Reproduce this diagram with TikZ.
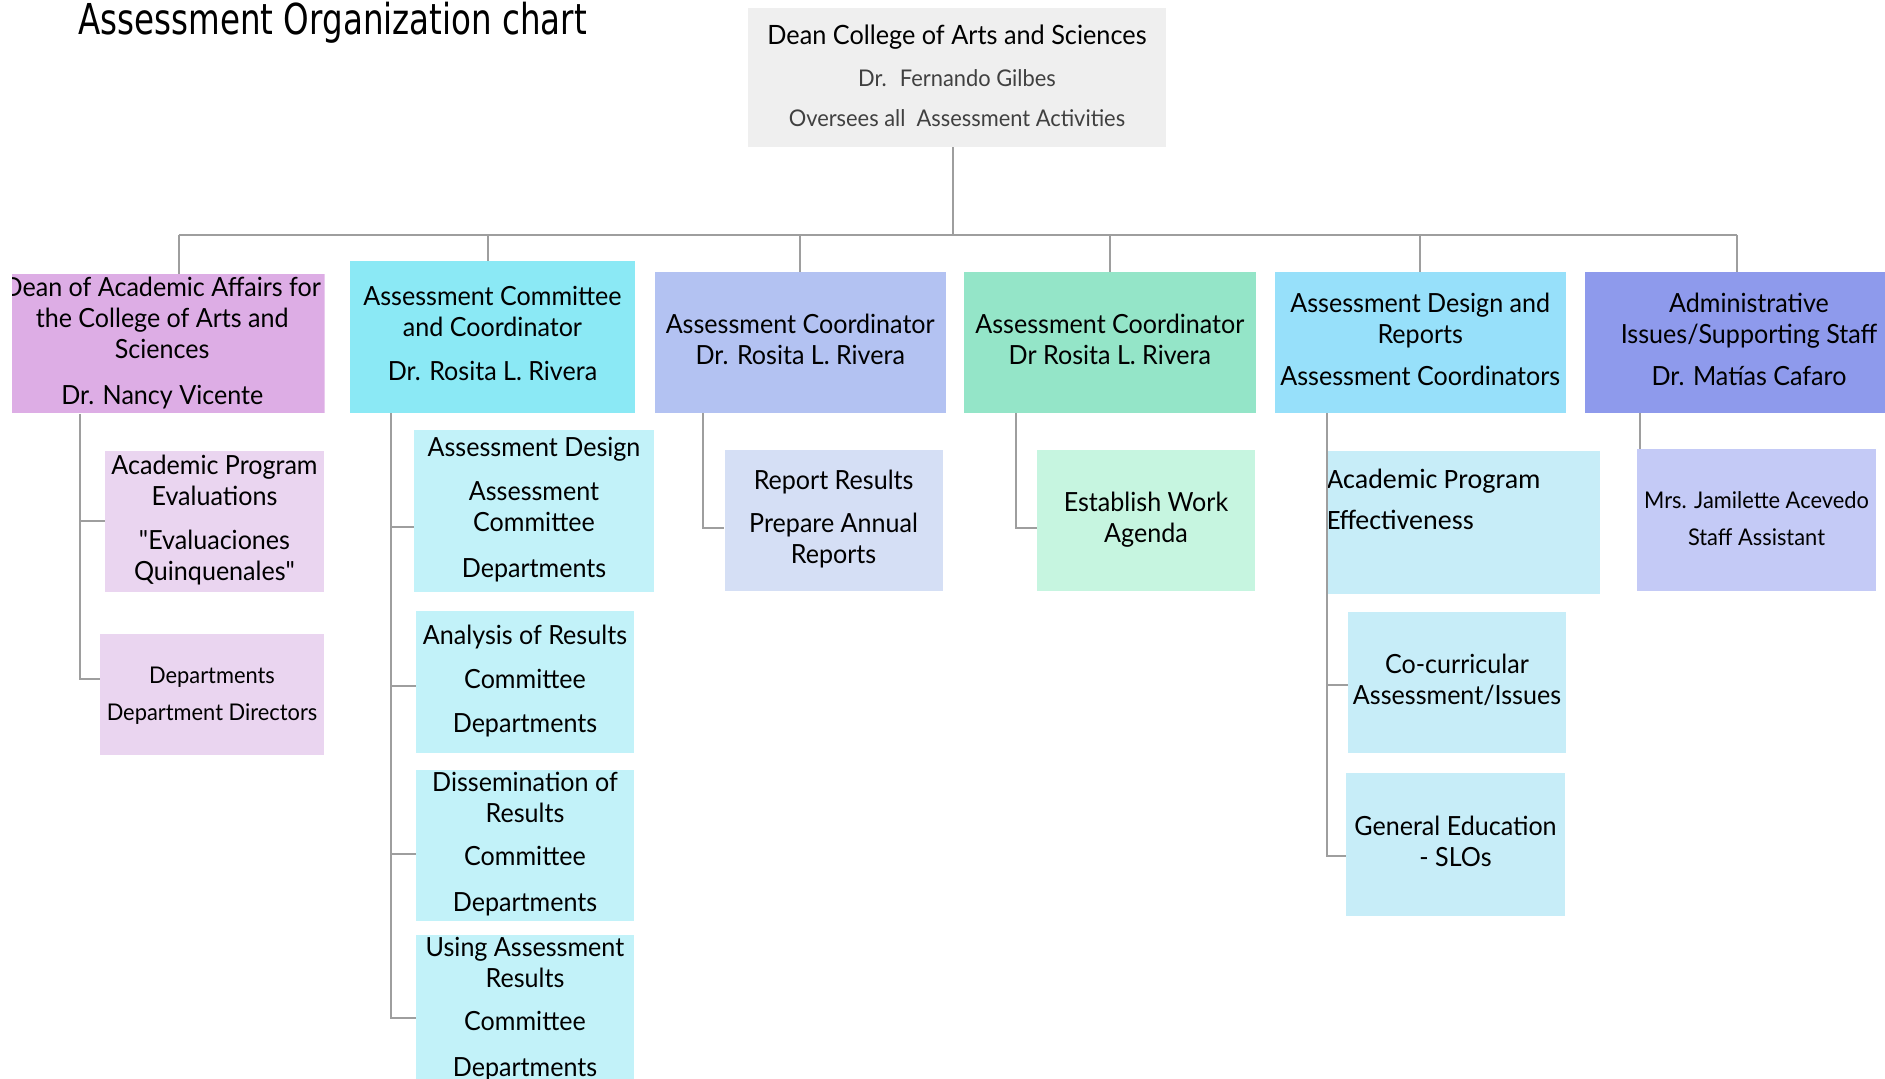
\documentclass[tikz,border=0pt]{standalone}
\usepackage{fontspec}
\usepackage{graphicx}
\setmainfont{Lato}[Ligatures=TeXOff, FakeStretch=0.95]
\newfontfamily\titlefont{DejaVu Sans}
\newfontfamily\calfont{Carlito}
\definecolor{linegray}{HTML}{9E9E9E}
\definecolor{ctop}{HTML}{EFEFEF}
\definecolor{cb1}{HTML}{DDADE5}
\definecolor{cb2}{HTML}{8BE9F5}
\definecolor{cb3}{HTML}{B3C2F2}
\definecolor{cb4}{HTML}{94E5C8}
\definecolor{cb5}{HTML}{97E0FA}
\definecolor{cb6}{HTML}{8E9AEC}
\definecolor{cc1}{HTML}{EAD5F0}
\definecolor{cc2}{HTML}{C2F2F9}
\definecolor{cc3}{HTML}{D5DFF5}
\definecolor{cc4}{HTML}{C6F5E0}
\definecolor{cc5}{HTML}{C7EDF8}
\definecolor{cc6}{HTML}{C4CAF6}
\definecolor{subgray}{HTML}{404040}
\newcommand\tb[1]{\begin{tabular}{@{}c@{}}#1\end{tabular}}
\newcommand\stb[1]{\raisebox{1.5pt}{\begin{tabular}{@{}c@{}}#1\end{tabular}}}
\tikzset{
  conn/.style={draw=linegray, line width=1pt},
  box/.style={rectangle, inner sep=0pt, text=black,
    font=\fontsize{13.2}{15.5}\selectfont},
  smallbox/.style={box, font=\fontsize{11.5}{18.5}\selectfont},
}
\begin{document}
\begin{tikzpicture}[x=0.5pt, y=-0.5pt]
\useasboundingbox (0,0) rectangle (1885,1079);

% title
\node[anchor=base west, inner sep=0pt, font=\titlefont\fontsize{21.3}{24}\selectfont] (title) at (78,35)
  {\scalebox{0.764}[1]{Assessment Organization chart}};

% top box
\node[box, fill=ctop, minimum width=209pt, minimum height=69.5pt, font=\fontsize{11.5}{20}\selectfont] (top) at (957,77.5)
  {\raisebox{4pt}{\tb{{\fontsize{13.3}{20}\selectfont Dean College of Arts and Sciences}\\[1pt]
   \color{subgray}Dr.~ Fernando Gilbes\\
   \color{subgray}Oversees all~ Assessment Activities}}};

% level 1
\begin{scope}
\clip (12,275) rectangle (324.5,413);
\node[box, fill=cb1, minimum width=156.25pt, minimum height=69pt] (b1) at (168.25,344)
  {\tb{Dean of Academic Affairs for\\the College of Arts and\\Sciences\\[7.5pt]Dr. Nancy Vicente}\hspace*{6pt}};
\end{scope}
\node[box, fill=cb2, minimum width=142.5pt, minimum height=76pt] (b2) at (492.5,337)
  {\tb{Assessment Committee\\and Coordinator\\[6.5pt]Dr. Rosita L. Rivera}};
\node[box, fill=cb3, minimum width=145.75pt, minimum height=70.5pt] (b3) at (800.25,342.5)
  {\tb{Assessment Coordinator\\Dr. Rosita L. Rivera}};
\node[box, fill=cb4, minimum width=145.85pt, minimum height=70.5pt] (b4) at (1109.85,342.5)
  {\tb{Assessment Coordinator\\Dr Rosita L. Rivera}};
\node[box, fill=cb5, minimum width=145.25pt, minimum height=70.5pt] (b5) at (1420.25,342.5)
  {\tb{Assessment Design and\\Reports\\[5.5pt]Assessment Coordinators}};
\node[box, fill=cb6, minimum width=164pt, minimum height=70.5pt] (b6) at (1749,342.5)
  {\tb{Administrative\\Issues/Supporting Staff\\[5.5pt]Dr. Matías Cafaro}};

% level 2
\node[box, fill=cc1, minimum width=109.5pt, minimum height=70.5pt] (c11) at (214.5,521.5)
  {\tb{Academic Program\\Evaluations\\[6.5pt]"Evaluaciones\\Quinquenales"}};
\node[smallbox, fill=cc1, minimum width=112pt, minimum height=60.5pt] (c12) at (212,694.5)
  {\stb{Departments\\Department Directors}};

\node[box, fill=cc2, minimum width=120pt, minimum height=81pt] (c21) at (534,511)
  {\tb{Assessment Design\\[6.5pt]Assessment\\Committee\\[7.5pt]Departments}};
\node[box, fill=cc2, minimum width=109pt, minimum height=71pt] (c22) at (525,682)
  {\tb{Analysis of Results\\[6.5pt]Committee\\[6.5pt]Departments}};
\node[box, fill=cc2, minimum width=109pt, minimum height=70.5pt] (c23) at (525,845.5)
  {\tb{Dissemination of\\Results\\[6pt]Committee\\[7.5pt]Departments}};
\node[box, fill=cc2, minimum width=109pt, minimum height=72pt] (c24) at (525,1010)
  {\tb{Using Assessment\\Results\\[6pt]Committee\\[7.5pt]Departments}};

\node[box, fill=cc3, minimum width=109pt, minimum height=70.35pt] (c31) at (833.6,520.35)
  {\tb{Report Results\\[6pt]Prepare Annual\\Reports}};
\node[box, fill=cc4, minimum width=109pt, minimum height=70.5pt] (c41) at (1146,520.5)
  {\tb{Establish Work\\Agenda}};

\node[box, fill=cc5, minimum width=136.25pt, minimum height=71.65pt] (c51) at (1463.25,522.35)
  {\begin{minipage}[c][71.65pt][t]{136.25pt}\raggedright\vspace*{9pt}%
   \calfont\fontsize{14}{20.5}\selectfont Academic Program\\Effectiveness\end{minipage}};
\node[box, fill=cc5, minimum width=109pt, minimum height=70.5pt] (c52) at (1457,682.5)
  {\tb{Co-curricular\\Assessment/Issues}};
\node[box, fill=cc5, minimum width=109.5pt, minimum height=71.5pt] (c53) at (1455.5,844.5)
  {\tb{General Education\\- SLOs}};

\node[smallbox, fill=cc6, minimum width=119.5pt, minimum height=70.85pt] (c61) at (1756.5,519.85)
  {\stb{Mrs. Jamilette Acevedo\\Staff Assistant}};

% connectors
\coordinate (bus) at (0,235);
\draw[conn] ([xshift=-2pt]top.south) -- ([xshift=-2pt]top.south |- bus);
\draw[conn] ([xshift=5.25pt]b1.north |- bus) -- ([xshift=-6pt]b6.north |- bus);
\draw[conn] ([xshift=5.25pt]b1.north |- bus) -- ([xshift=5.25pt]b1.north);
\draw[conn] ([xshift=-2.5pt]b2.north |- bus) -- ([xshift=-2.5pt]b2.north);
\draw[conn] (b3.north |- bus) -- (b3.north);
\draw[conn] (b4.north |- bus) -- (b4.north);
\draw[conn] (b5.north |- bus) -- (b5.north);
\draw[conn] ([xshift=-6pt]b6.north |- bus) -- ([xshift=-6pt]b6.north);

\draw[conn] ([xshift=-12.5pt]c11.west |- b1.south) |- (c11.west);
\draw[conn] ([xshift=-12.5pt]c11.west |- b1.south) |- ([yshift=7.75pt]c12.west);

\draw[conn] ([xshift=20.75pt]b2.south west) |- ([yshift=-8pt]c21.west);
\draw[conn] ([xshift=20.75pt]b2.south west) |- ([yshift=-2pt]c22.west);
\draw[conn] ([xshift=20.75pt]b2.south west) |- ([yshift=-4.25pt]c23.west);
\draw[conn] ([xshift=20.75pt]b2.south west) |- ([yshift=-3.75pt]c24.west);

\draw[conn] ([xshift=24.5pt]b3.south west) |- ([yshift=-4pt]c31.west);
\draw[conn] ([xshift=26pt]b4.south west) |- ([yshift=-4pt]c41.west);

\draw[conn] ([xshift=26pt]b5.south west) |- ([yshift=-1.25pt]c52.west);
\draw[conn] ([xshift=26pt]b5.south west) |- ([yshift=-5.75pt]c53.west);

\draw[conn] ([xshift=1.5pt]c61.north west) -- ([xshift=1.5pt]c61.north west |- b6.south);
\end{tikzpicture}
\end{document}
